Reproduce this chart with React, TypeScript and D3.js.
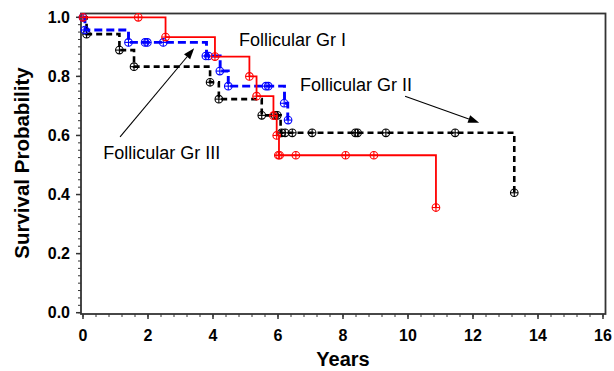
import React from 'react';
import * as d3 from 'd3';

// Kaplan-Meier steps (time in years, survival)
const grI_times = [0, 2.54, 4.06, 5.12, 5.34, 5.86, 5.96, 6.03, 10.86];
const grI_surv = [1.0, 0.933, 0.867, 0.8, 0.733, 0.667, 0.6, 0.533, 0.356];
const grI_marks: [number, number][] = [
  [0, 1.0], [1.7, 1.0], [2.54, 0.933], [4.06, 0.867], [5.12, 0.8], [5.34, 0.733],
  [5.86, 0.667], [5.96, 0.6], [6.01, 0.533], [6.05, 0.533], [6.55, 0.533],
  [8.08, 0.533], [8.95, 0.533], [10.86, 0.356],
];

const grII_times = [0, 0.06, 1.4, 3.8, 4.22, 4.47, 6.2, 6.3];
const grII_surv = [1.0, 0.957, 0.915, 0.869, 0.818, 0.767, 0.709, 0.652];
const grII_marks: [number, number][] = [
  [0, 1.0], [0.06, 0.957], [1.4, 0.915], [1.91, 0.915], [1.98, 0.915], [2.47, 0.915],
  [3.78, 0.869], [3.86, 0.869], [4.21, 0.818], [4.47, 0.767], [5.63, 0.767],
  [5.7, 0.767], [6.19, 0.709], [6.31, 0.652],
];

const grIII_times = [0, 0.11, 1.12, 1.57, 3.91, 4.18, 5.5, 6.08, 13.27];
const grIII_surv = [1.0, 0.943, 0.889, 0.833, 0.78, 0.723, 0.668, 0.609, 0.406];
const grIII_marks: [number, number][] = [
  [0.11, 0.943], [1.12, 0.889], [1.57, 0.833], [3.91, 0.78], [4.18, 0.723],
  [5.5, 0.668], [5.91, 0.668], [5.98, 0.668], [6.11, 0.609], [6.22, 0.609],
  [6.44, 0.609], [7.05, 0.609], [8.38, 0.609], [8.45, 0.609], [9.32, 0.609],
  [11.45, 0.609], [13.27, 0.406],
];

const xTicks = [0, 2, 4, 6, 8, 10, 12, 14, 16];
const yTicks = [0, 0.2, 0.4, 0.6, 0.8, 1.0];

const W = 614;
const H = 371;

const xScale = d3.scaleLinear().domain([0, 16]).range([83, 603]);
const yScale = d3.scaleLinear().domain([0, 1]).range([312.7, 17.3]);

const frame = { left: 81, top: 13.5, right: 605.5, bottom: 314 };

const stepLine = d3
  .line<[number, number]>()
  .x(d => xScale(d[0]))
  .y(d => yScale(d[1]))
  .curve(d3.curveStepAfter);

const zip = (t: number[], s: number[]) => t.map((v, i) => [v, s[i]] as [number, number]);

const series = [
  { name: 'III', pts: zip(grIII_times, grIII_surv), marks: grIII_marks, color: '#000000', width: 2.6, dash: '6,4' },
  { name: 'II', pts: zip(grII_times, grII_surv), marks: grII_marks, color: '#0000ff', width: 2.9, dash: '8,4' },
  { name: 'I', pts: zip(grI_times, grI_surv), marks: grI_marks, color: '#ff0000', width: 1.8, dash: undefined },
];

const Marker = ({ x, y, color }: { x: number; y: number; color: string }) => (
  <g>
    <circle cx={x} cy={y} r={3.8} fill="none" stroke={color} strokeWidth={1.1} />
    <line x1={x - 3.8} x2={x + 3.8} y1={y} y2={y} stroke={color} strokeWidth={1.1} />
    <line x1={x} x2={x} y1={y - 3.8} y2={y + 3.8} stroke={color} strokeWidth={1.1} />
  </g>
);

const Arrow = ({ x1, y1, x2, y2 }: { x1: number; y1: number; x2: number; y2: number }) => {
  const ang = Math.atan2(y2 - y1, x2 - x1);
  const len = 11;
  const half = 4;
  const bx = x2 - len * Math.cos(ang);
  const by = y2 - len * Math.sin(ang);
  const px = -Math.sin(ang) * half;
  const py = Math.cos(ang) * half;
  return (
    <g>
      <line x1={x1} y1={y1} x2={bx} y2={by} stroke="#000" strokeWidth={1.1} />
      <path d={`M${x2},${y2}L${bx + px},${by + py}L${bx - px},${by - py}Z`} fill="#000" />
    </g>
  );
};

export default function App() {
  const minorX = d3.range(0, 16.001, 0.4);
  const minorY = d3.range(0, 1.0001, 0.025);
  const font = 'Arial, "Liberation Sans", sans-serif';

  return (
    <svg
      width={W}
      height={H}
      style={{ position: 'absolute', left: 0, top: 0, background: '#fff', fontFamily: font }}
    >
      {/* frame */}
      <rect
        x={frame.left}
        y={frame.top}
        width={frame.right - frame.left}
        height={frame.bottom - frame.top}
        fill="none"
        stroke="#333"
        strokeWidth={1.8}
      />

      {/* y ticks */}
      {minorY.map(t => (
        <line key={`my${t}`} x1={frame.left - 3} x2={frame.left} y1={yScale(t)} y2={yScale(t)} stroke="#333" strokeWidth={1} />
      ))}
      {yTicks.map(t => (
        <g key={`y${t}`}>
          <line x1={frame.left - 5} x2={frame.left} y1={yScale(t)} y2={yScale(t)} stroke="#333" strokeWidth={1.5} />
          <text x={70} y={yScale(t) + 5.5} textAnchor="end" fontSize={16} fontWeight="bold">
            {t.toFixed(1)}
          </text>
        </g>
      ))}

      {/* x ticks */}
      {minorX.map(t => (
        <line key={`mx${t}`} x1={xScale(t)} x2={xScale(t)} y1={frame.bottom} y2={frame.bottom + 3} stroke="#333" strokeWidth={1} />
      ))}
      {xTicks.map(t => (
        <g key={`x${t}`}>
          <line x1={xScale(t)} x2={xScale(t)} y1={frame.bottom} y2={frame.bottom + 5} stroke="#333" strokeWidth={1.5} />
          <text x={xScale(t)} y={340.5} textAnchor="middle" fontSize={16} fontWeight="bold">
            {t}
          </text>
        </g>
      ))}

      {/* axis titles */}
      <text x={343} y={366} textAnchor="middle" fontSize={20} fontWeight="bold">
        Years
      </text>
      <text transform="translate(29,163) rotate(-90)" textAnchor="middle" fontSize={20.5} fontWeight="bold">
        Survival Probability
      </text>

      {/* survival curves */}
      {series.map(s => (
        <g key={s.name}>
          <path
            d={stepLine(s.pts) || ''}
            fill="none"
            stroke={s.color}
            strokeWidth={s.width}
            strokeDasharray={s.dash}
          />
          {s.marks.map((m, i) => (
            <Marker key={i} x={xScale(m[0])} y={yScale(m[1])} color={s.color} />
          ))}
        </g>
      ))}

      {/* annotations */}
      <text x={xScale(4.8)} y={yScale(0.923) + 6} fontSize={18}>Follicular Gr I</text>
      <text x={xScale(6.68)} y={yScale(0.77) + 6} fontSize={18}>Follicular Gr II</text>
      <text x={xScale(0.62)} y={yScale(0.541) + 6} fontSize={18}>Follicular Gr III</text>
      <Arrow x1={xScale(1.14)} y1={yScale(0.595)} x2={xScale(3.42)} y2={yScale(0.895)} />
      <Arrow x1={xScale(9.91)} y1={yScale(0.733)} x2={xScale(12.19)} y2={yScale(0.643)} />
    </svg>
  );
}
